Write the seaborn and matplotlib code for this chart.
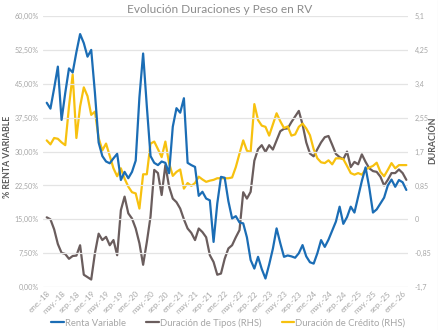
import matplotlib
matplotlib.use("Agg")
import matplotlib.pyplot as plt
import seaborn as sns
import pandas as pd
import numpy as np
from matplotlib.ticker import FixedLocator, FuncFormatter
from matplotlib.lines import Line2D

sns.set_theme(style="white")
plt.rcParams['font.family'] = ['Lato', 'DejaVu Sans']

months_es = ["ene", "feb", "mar", "abr", "may", "jun", "jul", "ago", "sep", "oct", "nov", "dic"]

renta_variable = [40.8, 39.5, 44.0, 48.8, 37.0, 43.0, 48.4, 47.5, 52.0, 56.0,
                  54.0, 51.0, 52.5, 43.0, 32.0, 29.0, 27.8, 27.4, 28.5, 29.5,
                  23.7, 25.5, 24.1, 25.5, 28.0, 42.0, 51.7, 40.0, 29.0, 27.5,
                  27.0, 27.8, 27.5, 25.2, 35.5, 39.6, 38.6, 41.8, 27.5, 27.0,
                  26.6, 20.2, 21.1, 19.6, 19.2, 10.0, 18.5, 24.4, 24.2, 19.0,
                  15.2, 15.7, 14.3, 14.1, 11.0, 6.0, 4.1, 6.7, 4.0, 1.9,
                  5.0, 8.5, 13.0, 9.7, 6.7, 7.0, 6.8, 6.5, 7.5, 9.3,
                  6.8, 5.5, 5.2, 7.5, 10.4, 8.9, 10.5, 12.5, 14.5, 17.8,
                  14.0, 15.5, 17.8, 16.5, 20.0, 23.5, 26.5, 22.0, 16.5, 17.2,
                  18.5, 19.8, 22.5, 23.8, 22.2, 23.7, 23.2, 21.5]

duracion_tipos = [0.05, 0.00, -0.25, -0.62, -0.84, -0.87, -0.99, -0.92, -0.91, -0.65,
                  -1.39, -1.45, -1.51, -0.85, -0.36, -0.52, -0.44, -0.65, -0.52, -0.90,
                  0.23, 0.57, 0.15, 0.02, -0.23, -0.60, -1.14, -0.57, 0.07, 1.24,
                  1.16, 0.61, 1.36, 0.82, 0.52, 0.43, 0.27, 0.00, -0.23, -0.34,
                  -0.52, -0.23, -0.32, -0.45, -0.90, -1.07, -1.39, -1.36, -0.99, -0.73,
                  -0.65, -0.45, -0.27, 0.68, 0.52, 0.69, 1.47, 1.76, 1.86, 1.69,
                  1.86, 1.75, 1.98, 2.21, 2.27, 2.28, 2.44, 2.58, 2.72, 2.38,
                  1.93, 1.65, 1.58, 1.76, 1.93, 2.06, 2.09, 1.87, 1.64, 1.56,
                  1.51, 1.70, 1.31, 1.44, 1.38, 1.63, 1.44, 1.28, 1.21, 1.19,
                  1.07, 0.85, 0.99, 1.16, 1.16, 1.25, 1.16, 0.99]

duracion_credito = [1.98, 1.88, 2.04, 2.02, 1.93, 1.86, 2.83, 3.63, 2.04, 2.83,
                    3.31, 3.09, 2.62, 2.70, 2.04, 1.73, 1.90, 1.59, 1.28, 1.08,
                    1.28, 1.02, 0.82, 0.68, 0.65, 0.27, 1.13, 1.13, 1.90, 1.95,
                    1.76, 1.56, 1.95, 1.41, 1.09, 1.19, 1.25, 0.77, 0.91, 0.84,
                    0.91, 1.07, 1.00, 0.94, 0.97, 0.99, 1.03, 1.03, 1.03, 1.03,
                    1.05, 1.31, 1.65, 1.98, 1.72, 1.69, 2.89, 2.49, 2.35, 2.32,
                    2.10, 2.38, 2.66, 2.46, 2.29, 2.33, 2.10, 2.13, 2.32, 2.40,
                    2.28, 2.11, 1.76, 1.53, 1.43, 1.41, 1.48, 1.38, 1.53, 1.53,
                    1.51, 1.34, 1.16, 1.12, 1.16, 1.12, 1.25, 1.30, 1.34, 1.42,
                    1.19, 1.08, 1.24, 1.41, 1.28, 1.36, 1.36, 1.36]

left_ticks = [0, 7.5, 15, 22.5, 30, 37.5, 45, 52.5, 60]
right_ticks = [-1.7, -0.85, 0, 0.85, 1.7, 2.55, 3.4, 4.25, 5.1]
right_tick_labels = ["-1,7", "-0,85", "0", "0,85", "1,7", "2,55", "3,4", "4,25", "5,1"]

n = len(renta_variable)
idx = np.arange(n)
labels = [f"{months_es[i % 12]}.-{18 + i // 12}" for i in range(n)]
df = pd.DataFrame({"m": idx, "rv": renta_variable,
                   "tipos": duracion_tipos, "credito": duracion_credito})

BLUE = "#1B6DB5"
GREY = "#6A5D5D"
YELLOW = "#F7C10F"
TXT = "#A6A6A6"

fig = plt.figure(figsize=(4.39, 3.30), dpi=100)
ax = fig.add_axes([0.098, 0.130, 0.831, 0.8215])
ax2 = ax.twinx()

sns.lineplot(data=df, x="m", y="tipos", ax=ax2, color=GREY, lw=1.6)
sns.lineplot(data=df, x="m", y="credito", ax=ax2, color=YELLOW, lw=1.6)
sns.lineplot(data=df, x="m", y="rv", ax=ax, color=BLUE, lw=1.6)
ax.set_zorder(ax2.get_zorder() + 1)
ax.patch.set_visible(False)

ax.set_xlim(-1, n - 0.6)
ax.set_ylim(0, 60)
ax2.set_ylim(-1.7, 5.1)

ax.yaxis.set_major_locator(FixedLocator(left_ticks))
ax.yaxis.set_major_formatter(FuncFormatter(lambda v, p: f"{v:.2f}%".replace(".", ",")))
ax2.set_yticks(right_ticks)
ax2.set_yticklabels(right_tick_labels)

xt = list(range(0, n, 4))
ax.set_xticks(xt)
ax.set_xticklabels([labels[i] for i in xt], rotation=45, ha="right",
                   rotation_mode="anchor", fontsize=5.8, color=TXT)
ax.tick_params(axis="x", length=0, pad=2)
ax.tick_params(axis="y", length=0, labelsize=5.1, labelcolor=TXT, pad=3)
ax2.tick_params(axis="y", length=0, labelsize=5.1, labelcolor=TXT, pad=5)

ax.grid(axis="y", color="#E4E4E4", lw=0.9)
ax.grid(axis="x", visible=False)
for a in (ax, ax2):
    for s in a.spines.values():
        s.set_visible(False)
    a.set_xlabel("")

ax.set_ylabel("% RENTA VARIABLE", fontsize=6.3, color="#595959",
              fontweight="bold")
ax.yaxis.set_label_coords(-0.085, 0.48)
ax2.set_ylabel("DURACIÓN", fontsize=6.3, color="#595959",
               fontweight="bold", rotation=90)
ax2.yaxis.set_label_coords(1.057, 0.54)

fig.text(0.5, 0.972, "Evolución Duraciones y Peso en RV", ha="center",
         va="center", fontsize=8.6, color="#8C8C8C")

handles = [Line2D([], [], color=BLUE, lw=1.6),
           Line2D([], [], color=GREY, lw=1.6),
           Line2D([], [], color=YELLOW, lw=1.6)]
fig.legend(handles, ["Renta Variable", "Duración de Tipos (RHS)",
                     "Duración de Crédito (RHS)"],
           loc="center", bbox_to_anchor=(0.52, 0.022), ncol=3, frameon=False,
           fontsize=6.8, handlelength=1.3, handletextpad=0.1, columnspacing=2.2,
           labelcolor=TXT)

fig.add_artist(Line2D([0.997, 0.997], [0, 1], color="#D9D9D9", lw=0.8,
                      transform=fig.transFigure))

fig.savefig("out.png", dpi=100)
